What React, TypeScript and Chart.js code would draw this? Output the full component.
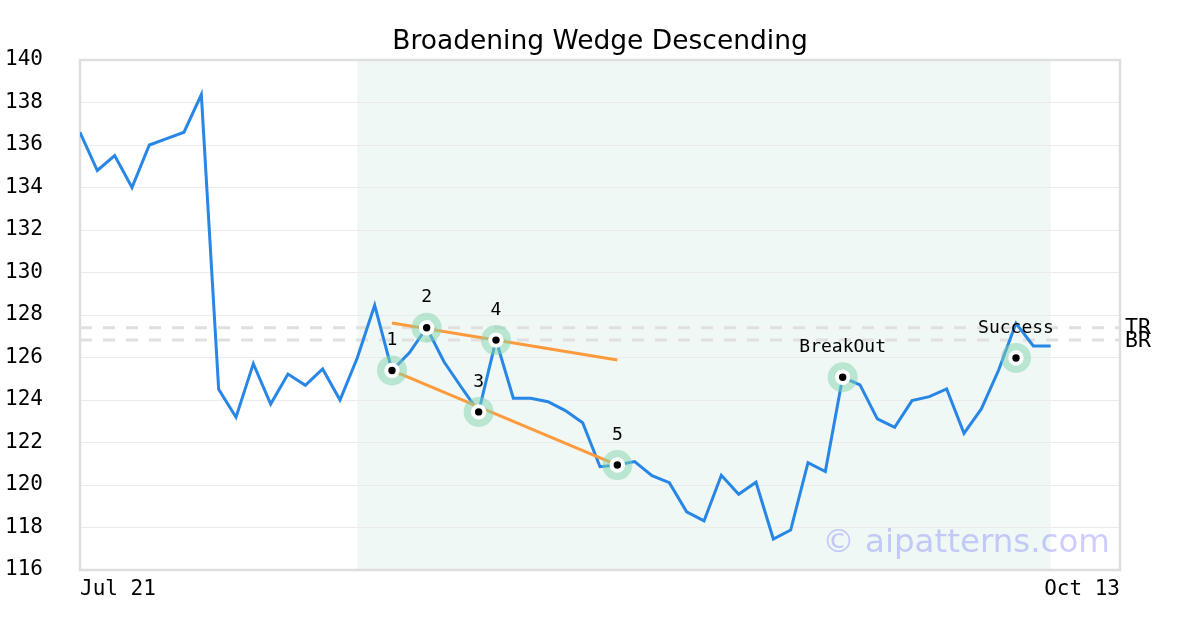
import React, { useEffect, useRef } from "react";
import { Chart, registerables } from "chart.js";

Chart.register(...registerables);

const chartTitle = "Broadening Wedge Descending";

const prices = [
  136.6, 134.8, 135.5, 134.0, 136.0, 136.3, 136.6, 138.37, 124.5, 123.19,
  125.71, 123.81, 125.22, 124.69, 125.46, 124.0, 125.99, 128.46, 125.39, 126.22,
  127.4, 125.8, 124.6, 123.44, 126.82, 124.08, 124.08, 123.92, 123.5, 122.93,
  120.86, 120.94, 121.1, 120.44, 120.11, 118.74, 118.31, 120.46, 119.56, 120.13,
  117.46, 117.88, 121.05, 120.63, 125.07, 124.71, 123.11, 122.71, 123.97, 124.16,
  124.52, 122.43, 123.58, 125.41, 127.61, 126.54, 126.54,
];

const xTickValues = [0, 60];
const xTickLabels = ["Jul 21", "Oct 13"];
const xMin = 0;
const xMax = 60;
const yMin = 116;
const yMax = 140;
const yStep = 2;

const patternStart = 16;
const patternEnd = 56;

const markerLabels = ["1", "2", "3", "4", "5", "BreakOut", "Success"];
const markerX = [18, 20, 23, 24, 31, 44, 54];
const markerY = [125.39, 127.4, 123.44, 126.82, 120.94, 125.07, 125.98];

const upperTrendX = [18, 31];
const upperTrendY = [127.62, 125.88];
const lowerTrendX = [18, 31];
const lowerTrendY = [125.39, 120.94];

const levelNames = ["TR", "BR"];
const levelValues = [127.4, 126.82];

const watermarkText = "© aipatterns.com";

const MONO = "'DejaVu Sans Mono', monospace";
const SANS = "'DejaVu Sans', sans-serif";

const overlayPlugin = {
  id: "overlay",
  beforeDraw(chart: any) {
    const { ctx, chartArea, scales, width } = chart;
    const x = scales.x;
    const l = x.getPixelForValue(patternStart);
    const r = x.getPixelForValue(patternEnd);
    ctx.save();
    ctx.fillStyle = "#eff8f4";
    ctx.fillRect(l, chartArea.top, r - l, chartArea.bottom - chartArea.top);
    ctx.fillStyle = "#000";
    ctx.font = `26.5px ${SANS}`;
    ctx.textAlign = "center";
    ctx.textBaseline = "alphabetic";
    ctx.fillText(chartTitle, width / 2, 48.5);
    ctx.restore();
  },
  beforeDatasetsDraw(chart: any) {
    const { ctx, chartArea } = chart;
    ctx.save();
    ctx.strokeStyle = "#dedede";
    ctx.lineWidth = 2.5;
    ctx.strokeRect(
      chartArea.left,
      chartArea.top,
      chartArea.right - chartArea.left,
      chartArea.bottom - chartArea.top
    );
    ctx.restore();
  },
  afterDatasetsDraw(chart: any) {
    const { ctx, chartArea, scales } = chart;
    const x = scales.x;
    const y = scales.y;
    ctx.save();
    ctx.fillStyle = "#000";
    ctx.font = `18px ${MONO}`;
    ctx.textAlign = "center";
    ctx.textBaseline = "middle";
    markerLabels.forEach((lab, i) => {
      ctx.fillText(lab, x.getPixelForValue(markerX[i]), y.getPixelForValue(markerY[i]) - 30);
    });
    ctx.font = `21.5px ${MONO}`;
    ctx.textAlign = "left";
    levelNames.forEach((lab, i) => {
      ctx.fillText(lab, chartArea.right + 5, y.getPixelForValue(levelValues[i]) + 1);
    });
    ctx.font = `32.5px ${SANS}`;
    ctx.textAlign = "right";
    ctx.textBaseline = "alphabetic";
    ctx.fillStyle = "rgba(90,90,255,0.3)";
    ctx.fillText(watermarkText, chartArea.right - 10, chartArea.bottom - 18);
    ctx.restore();
  },
};

export default function App() {
  const ref = useRef<HTMLCanvasElement | null>(null);
  useEffect(() => {
    document.body.style.margin = "0";
    const canvas = ref.current;
    if (!canvas) return;
    const pricePts = prices.map((v, i) => ({ x: i, y: v }));
    const markerPts = markerX.map((v, i) => ({ x: v, y: markerY[i] }));
    const levelDatasets = levelValues.map((v, i) => ({
      type: "line" as const,
      label: levelNames[i],
      data: [
        { x: xMin, y: v },
        { x: xMax, y: v },
      ],
      borderColor: "#e0e0e0",
      borderWidth: 3,
      borderDash: [12, 11],
      pointRadius: 0,
      order: 10,
    }));
    const chart = new Chart(canvas, {
      type: "line",
      data: {
        datasets: [
          ...levelDatasets,
          {
            label: "Price",
            data: pricePts,
            borderColor: "rgb(40,134,230)",
            borderWidth: 3,
            pointRadius: 0,
            tension: 0,
            order: 8,
          },
          {
            label: "Upper",
            data: upperTrendX.map((v, i) => ({ x: v, y: upperTrendY[i] })),
            borderColor: "#ff9a3c",
            borderWidth: 3,
            pointRadius: 0,
            order: 6,
          },
          {
            label: "Lower",
            data: lowerTrendX.map((v, i) => ({ x: v, y: lowerTrendY[i] })),
            borderColor: "#ff9a3c",
            borderWidth: 3,
            pointRadius: 0,
            order: 6,
          },
          {
            label: "Halo",
            data: markerPts,
            showLine: false,
            pointRadius: 15,
            pointBorderWidth: 0,
            pointBackgroundColor: "rgba(130,212,172,0.5)",
            pointBorderColor: "rgba(0,0,0,0)",
            order: 4,
          },
          {
            label: "Markers",
            data: markerPts,
            showLine: false,
            pointRadius: 5.7,
            pointBorderWidth: 4,
            pointBackgroundColor: "#000",
            pointBorderColor: "#fff",
            order: 2,
          },
        ],
      },
      options: {
        responsive: false,
        animation: false,
        devicePixelRatio: 1,
        layout: { padding: { left: 5, right: 80, top: 60, bottom: 0 } },
        plugins: {
          legend: { display: false },
          tooltip: { enabled: false },
          title: { display: false },
        },
        scales: {
          x: {
            type: "linear",
            min: xMin,
            max: xMax,
            grid: { display: false, drawTicks: false },
            border: { display: false },
            afterBuildTicks: (scale: any) => {
              scale.ticks = xTickValues.map((v) => ({ value: v }));
            },
            afterFit: (scale: any) => {
              scale.height = 60;
            },
            ticks: {
              autoSkip: false,
              maxRotation: 0,
              align: "inner",
              padding: 7,
              color: "#000",
              font: { family: MONO, size: 21 },
              callback: (v: any) => {
                const idx = xTickValues.indexOf(Number(v));
                return idx >= 0 ? xTickLabels[idx] : "";
              },
            },
          },
          y: {
            type: "linear",
            min: yMin,
            max: yMax,
            grid: { color: "#ebebeb", lineWidth: 1, drawTicks: false },
            border: { display: false },
            afterFit: (scale: any) => {
              scale.width = 75;
            },
            ticks: {
              stepSize: yStep,
              crossAlign: "far",
              color: "#000",
              font: { family: MONO, size: 21 },
            },
          },
        },
      },
      plugins: [overlayPlugin],
    } as any);
    return () => chart.destroy();
  }, []);
  return <canvas ref={ref} width={1200} height={630} style={{ display: "block" }} />;
}
